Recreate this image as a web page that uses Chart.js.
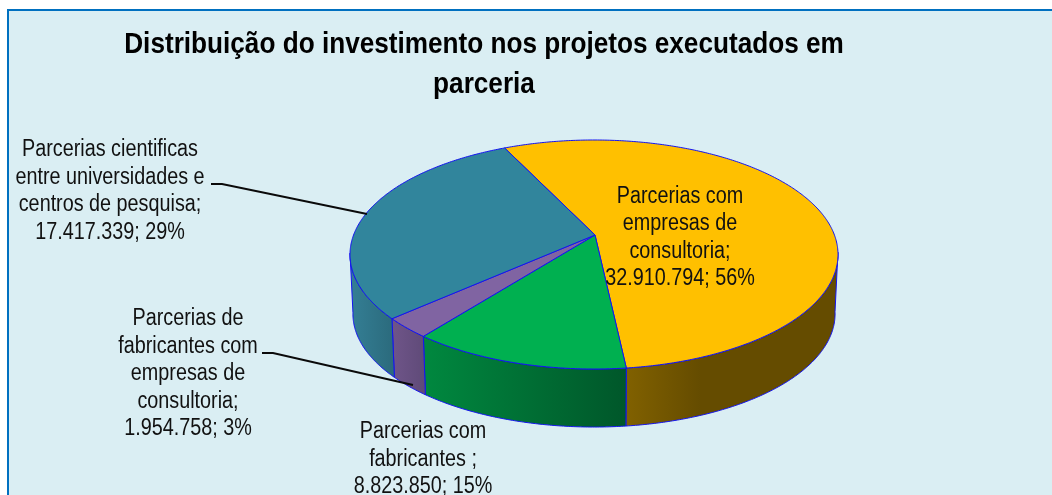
<!DOCTYPE html>
<html>
<head>
<meta charset="utf-8">
<style>html,body{margin:0;padding:0;background:#fff;overflow:hidden}canvas{display:block}</style>
<script src="https://cdn.jsdelivr.net/npm/chart.js@4"></script>
</head>
<body>
<canvas id="c" width="1052" height="495"></canvas>
<script>
const titleLines = ['Distribuição do investimento nos projetos executados em', 'parceria'];
const categories = [
  ['Parcerias com', 'empresas de', 'consultoria;'],
  ['Parcerias com', 'fabricantes ;'],
  ['Parcerias de', 'fabricantes com', 'empresas de', 'consultoria;'],
  ['Parcerias cientificas', 'entre universidades e', 'centros de pesquisa;']
];
const values = [32910794, 8823850, 1954758, 17417339];
const percents = [56, 15, 3, 29];
const topColors = ['#FFC000', '#00B050', '#8064A2', '#31859C'];
const wallStops = [
  [[0, '#816100'], [0.35, '#654C00'], [1, '#654C00']],
  [[0, '#00883F'], [1, '#00572A']],
  [[0, '#6F5589'], [1, '#5F4A78']],
  [[0, '#347F95'], [1, '#2B6A7C']]
];
const labelAnchors = [[680, 196.5], [423, 432], [188, 319], [110, 150]];
const labelLineHeight = 27.5;
const leaderLines = [
  [[211, 184], [222, 184], [367, 214]],
  [[262, 353], [273, 353], [413, 385]]
];
const pie = {apexX: 595, apexY: 235, cx: 594, cy: 254.5, rx: 244, ry: 114.5, depth: 59.4, foot: 0.988};
const textSqueeze = 0.86;
const titleSqueeze = 0.872;

function project(a, s, dy) {
  return [pie.cx + s * pie.rx * Math.cos(a), pie.cy + dy + s * pie.ry * Math.sin(a)];
}
function dots(n) { return String(n).replace(/\B(?=(\d{3})+$)/g, '.'); }

const pie3d = {
  id: 'pie3d',
  beforeDraw(chart) {
    const ctx = chart.ctx;
    ctx.fillStyle = '#DAEEF3';
    ctx.fillRect(8, 10, 1100, 600);
    ctx.strokeStyle = '#0070C0';
    ctx.lineWidth = 2;
    ctx.strokeRect(8, 10, 1100, 600);
    // the title (drawn next by the library) is horizontally condensed
    ctx.save();
    ctx.translate(484, 0);
    ctx.scale(titleSqueeze, 1);
    ctx.translate(-484, 0);
  },
  beforeDatasetsDraw(chart) {
    const ctx = chart.ctx;
    ctx.restore();
    const arcs = chart.getDatasetMeta(0).data;
    ctx.save();
    ctx.lineJoin = 'round';
    ctx.lineWidth = 1;
    ctx.strokeStyle = '#1414F0';
    arcs.forEach((arc, i) => {
      const top = [], foot = [];
      const n = Math.ceil((arc.endAngle - arc.startAngle) / 0.01);
      for (let k = 0; k <= n; k++) {
        const a = arc.startAngle + (arc.endAngle - arc.startAngle) * k / n;
        if (Math.sin(a) < -0.02) continue;
        top.push(project(a, 1, 0));
        foot.push(project(a, pie.foot, pie.depth));
      }
      if (!top.length) return;
      const xs = top.concat(foot).map(p => p[0]);
      const g = ctx.createLinearGradient(Math.min(...xs), 0, Math.max(...xs), 0);
      wallStops[i].forEach(s => g.addColorStop(s[0], s[1]));
      ctx.fillStyle = g;
      ctx.beginPath();
      top.forEach((p, k) => k ? ctx.lineTo(p[0], p[1]) : ctx.moveTo(p[0], p[1]));
      foot.reverse().forEach(p => ctx.lineTo(p[0], p[1]));
      ctx.closePath();
      ctx.fill();
      ctx.stroke();
    });
    arcs.forEach(arc => {
      const n = Math.ceil((arc.endAngle - arc.startAngle) / 0.01);
      ctx.beginPath();
      ctx.moveTo(pie.apexX, pie.apexY);
      for (let k = 0; k <= n; k++) {
        const p = project(arc.startAngle + (arc.endAngle - arc.startAngle) * k / n, 1, 0);
        ctx.lineTo(p[0], p[1]);
      }
      ctx.closePath();
      ctx.fillStyle = arc.options.backgroundColor;
      ctx.fill();
      ctx.stroke();
    });
    ctx.restore();
    return false;
  },
  afterDraw(chart) {
    const ctx = chart.ctx;
    ctx.save();
    ctx.strokeStyle = '#0A0A0A';
    ctx.lineWidth = 2;
    leaderLines.forEach(l => {
      ctx.beginPath();
      l.forEach((p, k) => k ? ctx.lineTo(p[0], p[1]) : ctx.moveTo(p[0], p[1]));
      ctx.stroke();
    });
    ctx.fillStyle = '#111';
    ctx.font = '23px "Liberation Sans"';
    ctx.textAlign = 'center';
    ctx.textBaseline = 'middle';
    categories.forEach((lines, i) => {
      const all = lines.concat(dots(values[i]) + '; ' + percents[i] + '%');
      all.forEach((t, k) => {
        ctx.save();
        ctx.translate(labelAnchors[i][0], labelAnchors[i][1] + k * labelLineHeight);
        ctx.scale(textSqueeze, 1);
        ctx.fillText(t, 0, 0);
        ctx.restore();
      });
    });
    ctx.restore();
  }
};

new Chart(document.getElementById('c'), {
  type: 'pie',
  data: {
    labels: categories.map(c => c.join(' ')),
    datasets: [{data: values, backgroundColor: topColors, rotation: -21.5}]
  },
  options: {
    responsive: false,
    animation: false,
    layout: {padding: {left: 10, right: 94, top: 0, bottom: 0}},
    plugins: {
      legend: {display: false},
      tooltip: {enabled: false},
      title: {
        display: true,
        fullSize: false,
        text: titleLines,
        color: '#000',
        font: {family: '"Liberation Sans"', size: 30, weight: 'bold', lineHeight: 1.333},
        padding: {top: 25, bottom: 0}
      }
    }
  },
  plugins: [pie3d]
});
</script>
</body>
</html>
